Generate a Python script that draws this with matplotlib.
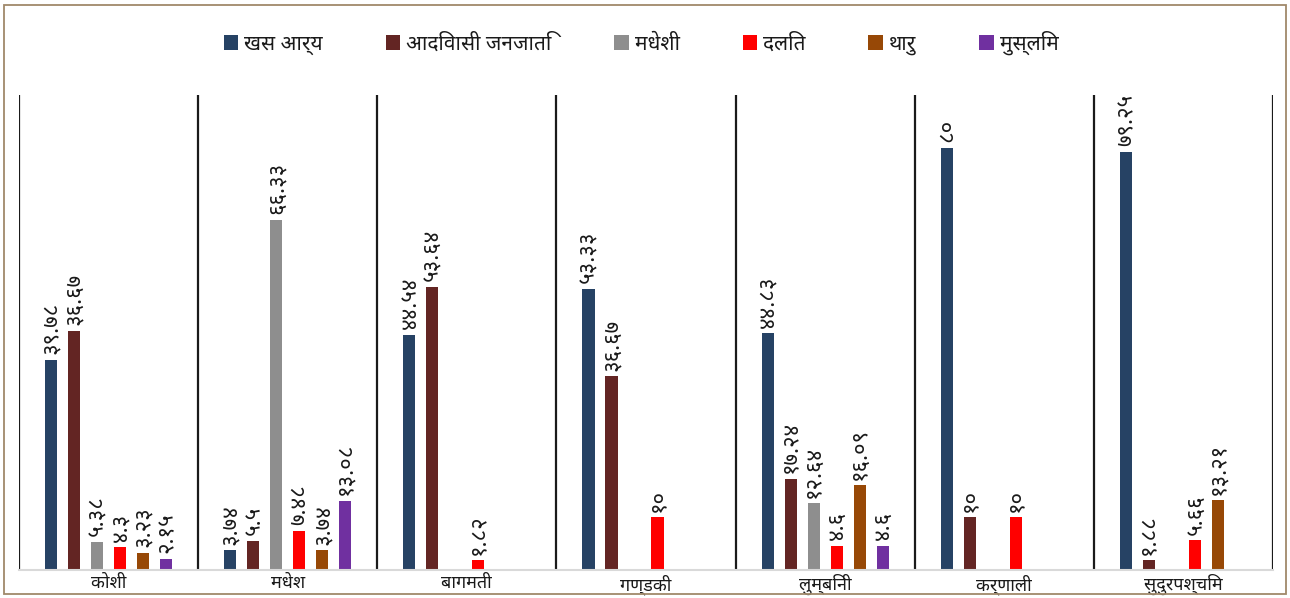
import matplotlib
matplotlib.use("Agg")
import matplotlib.pyplot as plt
import numpy as np

FONTS = ['Noto Sans Devanagari', 'Hind', 'Mukta', 'FreeSans', 'DejaVu Sans']
plt.rcParams['font.family'] = FONTS

provinces = ['कोशी', 'मधेश', 'बागमती', 'गण्डकी', 'लुम्बिनी', 'कर्णाली', 'सुदुरपश्चिम']
groups = ['खस आर्य', 'आदिवासी जनजाति', 'मधेशी', 'दलित', 'थारु', 'मुस्लिम']
colors = ['#264264', '#632523', '#8E8E8E', '#FF0000', '#974806', '#7030A0']

# values (None = no bar)
khas     = [39.78, 3.74, 44.54, 53.33, 44.83, 80, 79.25]
adivasi  = [45.3, 5.5, 53.64, 36.67, 17.24, 10, 1.88]
madheshi = [5.38, 66.33, None, None, 12.64, None, None]
dalit    = [4.3, 7.48, 1.82, 10, 4.6, 10, 5.66]
tharu    = [3.23, 3.74, None, None, 16.09, None, 13.21]
muslim   = [2.15, 13.08, None, None, 4.6, None, None]

# data-label texts as printed on the chart
khas_lbl     = ['३९.७८', '३.७४', '४४.५४', '५३.३३', '४४.८३', '८०', '७९.२५']
adivasi_lbl  = ['३६.६७', '५.५', '५३.६४', '३६.६७', '१७.२४', '१०', '१.८८']
madheshi_lbl = ['५.३८', '६६.३३', None, None, '१२.६४', None, None]
dalit_lbl    = ['४.३', '७.४८', '१.८२', '१०', '४.६', '१०', '५.६६']
tharu_lbl    = ['३.२३', '३.७४', None, None, '१६.०९', None, '१३.२१']
muslim_lbl   = ['२.१५', '१३.०८', None, None, '४.६', None, None]

series = [khas, adivasi, madheshi, dalit, tharu, muslim]
labels = [khas_lbl, adivasi_lbl, madheshi_lbl, dalit_lbl, tharu_lbl, muslim_lbl]

fig = plt.figure(figsize=(12.9, 5.98), dpi=100)
fig.patches.append(plt.Rectangle((0.003, 0.006), 0.994, 0.986, transform=fig.transFigure,
                                 fill=False, edgecolor='#A0896A', linewidth=1.3))
ax = fig.add_axes([0.01473, 0.04682, 0.97209, 0.7943])

x = np.arange(len(provinces))
step = 0.1285
width = 0.068
handles = []
for j, (vals, lbls, c, g) in enumerate(zip(series, labels, colors, groups)):
    xs = x + (j - 2.5) * step
    hv = [np.nan if v is None else v for v in vals]
    bars = ax.bar(xs, hv, width=width, color=c, label=g, edgecolor='none')
    handles.append(bars)
    for xi, v, t in zip(xs, vals, lbls):
        if v is None or t is None:
            continue
        ax.annotate(t, (xi, v), xytext=(0.5, 4), textcoords='offset points',
                    rotation=90, ha='center', va='bottom', fontsize=16, color='#1a1a1a')

ax.set_xlim(-0.5, len(provinces) - 0.5)
ax.set_ylim(0, 90)
ax.set_yticks([])
ax.set_xticks(x)
ax.set_xticklabels(provinces, fontsize=13, color='#1a1a1a')
ax.tick_params(axis='x', length=0, pad=3)
for s in ['top', 'left', 'right']:
    ax.spines[s].set_visible(False)
ax.spines['bottom'].set_color('#D9D9D9')
ax.spines['bottom'].set_linewidth(1.5)
for b in np.arange(-0.5, len(provinces), 1.0):
    ax.axvline(b, ymin=0, ymax=1, color='#1a1a1a', linewidth=1.6)

fig.legend(handles=handles, labels=groups, loc='center', bbox_to_anchor=(0.497, 0.928),
           ncol=6, frameon=False, fontsize=15, handlelength=0.7, handleheight=0.7,
           handletextpad=0.3, columnspacing=3.0, labelcolor='#1a1a1a')

fig.savefig("out.png", dpi=100)
